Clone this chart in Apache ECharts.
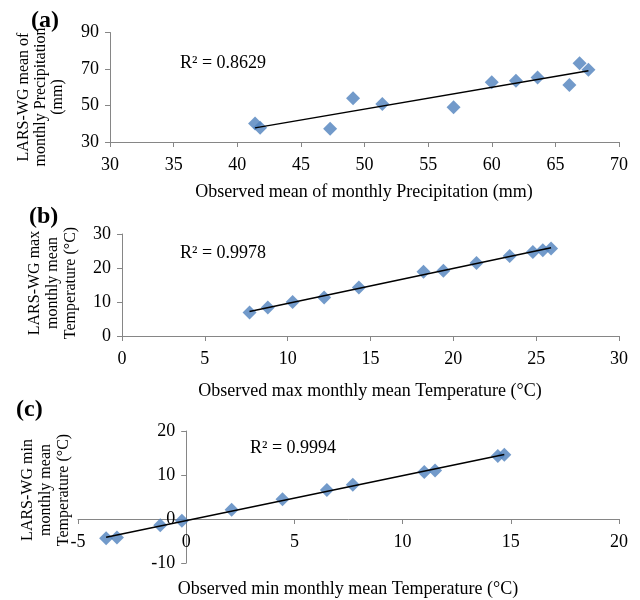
<!DOCTYPE html>
<html>
<head>
<meta charset="utf-8">
<script src="https://cdn.jsdelivr.net/npm/echarts@6/dist/echarts.min.js"></script>
<style>
html,body{margin:0;padding:0;background:#fff;}
#chart{width:640px;height:600px;}
</style>
</head>
<body>
<div id="chart"></div>
<script>
// Panel (a): monthly precipitation (mm)
var precipObserved = [41.4, 41.8, 47.3, 49.1, 51.4, 57.0, 60.0, 61.9, 63.6, 66.1, 66.9, 67.6];
var precipLarsWG   = [40.2, 37.8, 37.3, 54.0, 50.8, 49.1, 62.7, 63.6, 65.4, 61.2, 73.1, 69.6];
// Panel (b): max monthly mean temperature (°C)
var tmaxObserved = [7.7, 8.8, 10.3, 12.2, 14.3, 18.2, 19.4, 21.4, 23.4, 24.8, 25.4, 25.9];
var tmaxLarsWG   = [6.9, 8.4, 10.0, 11.3, 14.3, 18.9, 19.2, 21.5, 23.5, 24.7, 25.2, 25.7];
// Panel (c): min monthly mean temperature (°C)
var tminObserved = [-3.7, -3.2, -1.2, -0.2, 2.1, 4.45, 6.5, 7.7, 11.0, 11.5, 14.4, 14.7];
var tminLarsWG   = [-4.4, -4.2, -1.4, -0.4, 2.1, 4.5, 6.6, 7.8, 10.7, 11.0, 14.3, 14.6];

var r2Labels = ['R² = 0.8629', 'R² = 0.9978', 'R² = 0.9994'];
var panelLabels = ['(a)', '(b)', '(c)'];
var xTitles = ['Observed mean of monthly Precipitation (mm)',
               'Observed max monthly mean Temperature (°C)',
               'Observed min monthly mean Temperature (°C)'];
var yTitles = [['LARS-WG mean of', 'monthly Precipitation', '(mm)'],
               ['LARS-WG max', 'monthly mean', 'Temperature (°C)'],
               ['LARS-WG min', 'monthly mean', 'Temperature (°C)']];
var xRanges = [[30, 70, 5], [0, 30, 5], [-5, 20, 5]];
var yRanges = [[30, 90, 20], [0, 30, 10], [-10, 20, 10]];

function pairs(xs, ys){ return xs.map(function(x,i){ return [x, ys[i]]; }); }
function trend(xs, ys){
  var n = xs.length, sx=0, sy=0, sxx=0, sxy=0;
  for (var i=0;i<n;i++){ sx+=xs[i]; sy+=ys[i]; sxx+=xs[i]*xs[i]; sxy+=xs[i]*ys[i]; }
  var b = (n*sxy - sx*sy)/(n*sxx - sx*sx), a = (sy - b*sx)/n;
  var x0 = Math.min.apply(null, xs), x1 = Math.max.apply(null, xs);
  return [[x0, a + b*x0], [x1, a + b*x1]];
}

var FONT = 'Liberation Serif, Times New Roman, serif';
var grids = [
  {left:110, top:32.5, width:509, height:109.5, outerBoundsMode:'none', containLabel:false},
  {left:122, top:234, width:497, height:102, outerBoundsMode:'none', containLabel:false},
  {left:78, top:431, width:541, height:132, outerBoundsMode:'none', containLabel:false}
];
var dataSets = [[precipObserved, precipLarsWG],[tmaxObserved, tmaxLarsWG],[tminObserved, tminLarsWG]];

// axes cross at zero (Excel style) when zero lies inside the range
function crossOffset(range, size){
  var lo = range[0], hi = range[1];
  if (lo < 0 && hi > 0) return -size * (0 - lo) / (hi - lo);
  return 0;
}

var axisLineStyle = {onZero:false, lineStyle:{color:'#868686', width:1}};
var xAxes = [], yAxes = [], series = [];
for (var k=0;k<3;k++){
  xAxes.push({
    type:'value', gridIndex:k, min:xRanges[k][0], max:xRanges[k][1], interval:xRanges[k][2],
    offset: crossOffset(yRanges[k], grids[k].height),
    splitLine:{show:false}, axisLine:axisLineStyle,
    axisTick:{show:true, length:5, inside:false, lineStyle:{color:'#868686'}},
    axisLabel:{color:'#000', fontFamily:FONT, fontSize:18, margin:14}
  });
  yAxes.push({
    type:'value', gridIndex:k, min:yRanges[k][0], max:yRanges[k][1], interval:yRanges[k][2],
    offset: crossOffset(xRanges[k], grids[k].width),
    splitLine:{show:false}, axisLine:axisLineStyle,
    axisTick:{show:true, length:5, inside:false, lineStyle:{color:'#868686'}},
    axisLabel:{color:'#000', fontFamily:FONT, fontSize:18, margin:11}
  });
  series.push({
    type:'scatter', xAxisIndex:k, yAxisIndex:k, symbol:'diamond', symbolSize:14,
    itemStyle:{color:'#4F81BD'}, data:pairs(dataSets[k][0], dataSets[k][1]), z:3
  });
  series.push({
    type:'line', xAxisIndex:k, yAxisIndex:k, symbol:'none', silent:true,
    lineStyle:{color:'#000', width:1.5}, data:trend(dataSets[k][0], dataSets[k][1]), z:4
  });
}

var graphics = [];
var panelPos = [[31, 21], [29, 217], [16, 410]];
var r2Pos = [[180, 63], [180, 253], [250, 448]];
var xTitlePos = [[364, 192], [370, 391], [348, 589]];
var yTitleX = [[24, 41, 58], [35, 53, 71], [28, 46, 64]];
var yTitleY = [97, 283, 490];
for (var k=0;k<3;k++){
  graphics.push({type:'text', x:panelPos[k][0], y:panelPos[k][1],
    style:{text:panelLabels[k], font:'bold 24px ' + FONT, fill:'#000', textAlign:'left', textVerticalAlign:'middle'}});
  graphics.push({type:'text', x:r2Pos[k][0], y:r2Pos[k][1],
    style:{text:r2Labels[k], font:'18px ' + FONT, fill:'#000', textVerticalAlign:'middle', textAlign:'left'}});
  graphics.push({type:'text', x:xTitlePos[k][0], y:xTitlePos[k][1],
    style:{text:xTitles[k], font:'18px ' + FONT, fill:'#000', textVerticalAlign:'middle', textAlign:'center'}});
  for (var j=0;j<3;j++){
    graphics.push({type:'text', x:yTitleX[k][j], y:yTitleY[k], rotation:Math.PI/2,
      style:{text:yTitles[k][j], font:'16px ' + FONT, fill:'#000', textAlign:'center', textVerticalAlign:'middle'}});
  }
}

var chart = echarts.init(document.getElementById('chart'), null, {renderer:'canvas'});
chart.setOption({
  animation:false,
  backgroundColor:'#fff',
  grid:grids,
  xAxis:xAxes,
  yAxis:yAxes,
  series:series,
  graphic:graphics
});
</script>
</body>
</html>
